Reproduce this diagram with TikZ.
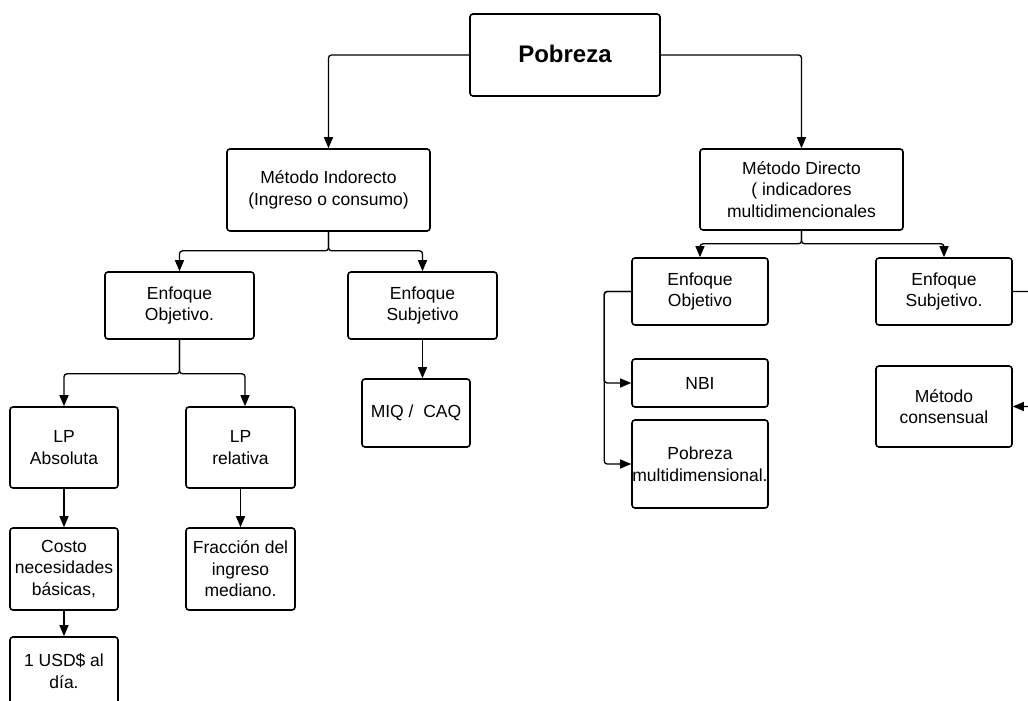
\documentclass[tikz,border=0pt]{standalone}
\usepackage{fontspec}
\setmainfont{Liberation Sans}
\usetikzlibrary{arrows.meta}
\tikzset{
  box/.style={draw, line width=1.6pt, rounded corners=3pt, align=center,
    font=\fontsize{17.5}{21.5}\selectfont, inner sep=0pt},
  conn/.style={line width=1.3pt, rounded corners=3pt,
    -{Triangle[length=11pt,width=9pt]}}
}
\begin{document}
\begin{tikzpicture}[x=1pt,y=-1pt]
\useasboundingbox (0,0) rectangle (1028,701);
\clip (0,0) rectangle (1028,701);
\fill[white] (0,0) rectangle (1028,701);
% nodes
\node[box, minimum width=190pt, minimum height=82pt, font=\fontsize{24}{28}\selectfont\bfseries] (P) at (565,55) {\raisebox{3pt}{Pobreza}};
\node[box, minimum width=203pt, minimum height=82pt] (MI) at (328.5,190) {Método Indorecto\\(Ingreso o consumo)};
\node[box, minimum width=203pt, minimum height=81pt] (MD) at (801.5,189.5) {Método Directo\\( indicadores\\multidimencionales};
\node[box, minimum width=149pt, minimum height=67pt] (EO1) at (179.5,305.5) {Enfoque\\Objetivo.};
\node[box, minimum width=149pt, minimum height=67pt] (ES1) at (422.5,305.5) {Enfoque\\Subjetivo};
\node[box, minimum width=108pt, minimum height=81pt] (LPA) at (64,447.5) {LP\\Absoluta};
\node[box, minimum width=109pt, minimum height=81pt] (LPR) at (240.5,447.5) {LP\\relativa};
\node[box, minimum width=108pt, minimum height=68pt] (MIQ) at (416,413) {MIQ /\ \ CAQ};
\node[box, minimum width=108pt, minimum height=82pt] (Costo) at (64,569) {Costo\\necesidades\\básicas,};
\node[box, minimum width=109pt, minimum height=82pt] (Frac) at (240.5,569) {Fracción del\\ingreso\\mediano.};
\node[box, minimum width=108pt, minimum height=68pt] (USD) at (64,671) {1 USD\$ al\\día.};
\node[box, minimum width=136pt, minimum height=67pt] (EO2) at (700,291.5) {Enfoque\\Objetivo};
\node[box, minimum width=136pt, minimum height=67pt] (ES2) at (944,291.5) {Enfoque\\Subjetivo.};
\node[box, minimum width=136pt, minimum height=48pt] (NBI) at (700,383) {NBI};
\node[box, minimum width=136pt, minimum height=88pt] (PM) at (700,464) {Pobreza\\multidimensional.};
\node[box, minimum width=136pt, minimum height=81pt] (MC) at (944,406.5) {Método\\consensual};
\coordinate (far) at (1045,0);
% connectors
\draw[conn] (P.west) -| (MI.north);
\draw[conn] (P.east) -| (MD.north);
\draw[conn] (MI.south) -- ++(0,19) -| (EO1.north);
\draw[conn] (MI.south) -- ++(0,19) -| (ES1.north);
\draw[conn] (EO1.south) -- ++(0,34) -| (LPA.north);
\draw[conn] (EO1.south) -- ++(0,34) -| ([xshift=4.5pt]LPR.north);
\draw[conn] (ES1.south) -- (ES1.south |- MIQ.north);
\draw[conn] (LPA.south) -- (Costo.north);
\draw[conn] (LPR.south) -- (Frac.north);
\draw[conn] (Costo.south) -- (USD.north);
\draw[conn] (MD.south) -- ++(0,13) -| (EO2.north);
\draw[conn] (MD.south) -- ++(0,13) -| (ES2.north);
\draw[conn] (EO2.west) -- ++(-27,0) |- (NBI.west);
\draw[conn] (EO2.west) -- ++(-27,0) |- (PM.west);
\draw[conn] (ES2.east) -- (ES2.east -| far) |- (MC.east);
\end{tikzpicture}
\end{document}
